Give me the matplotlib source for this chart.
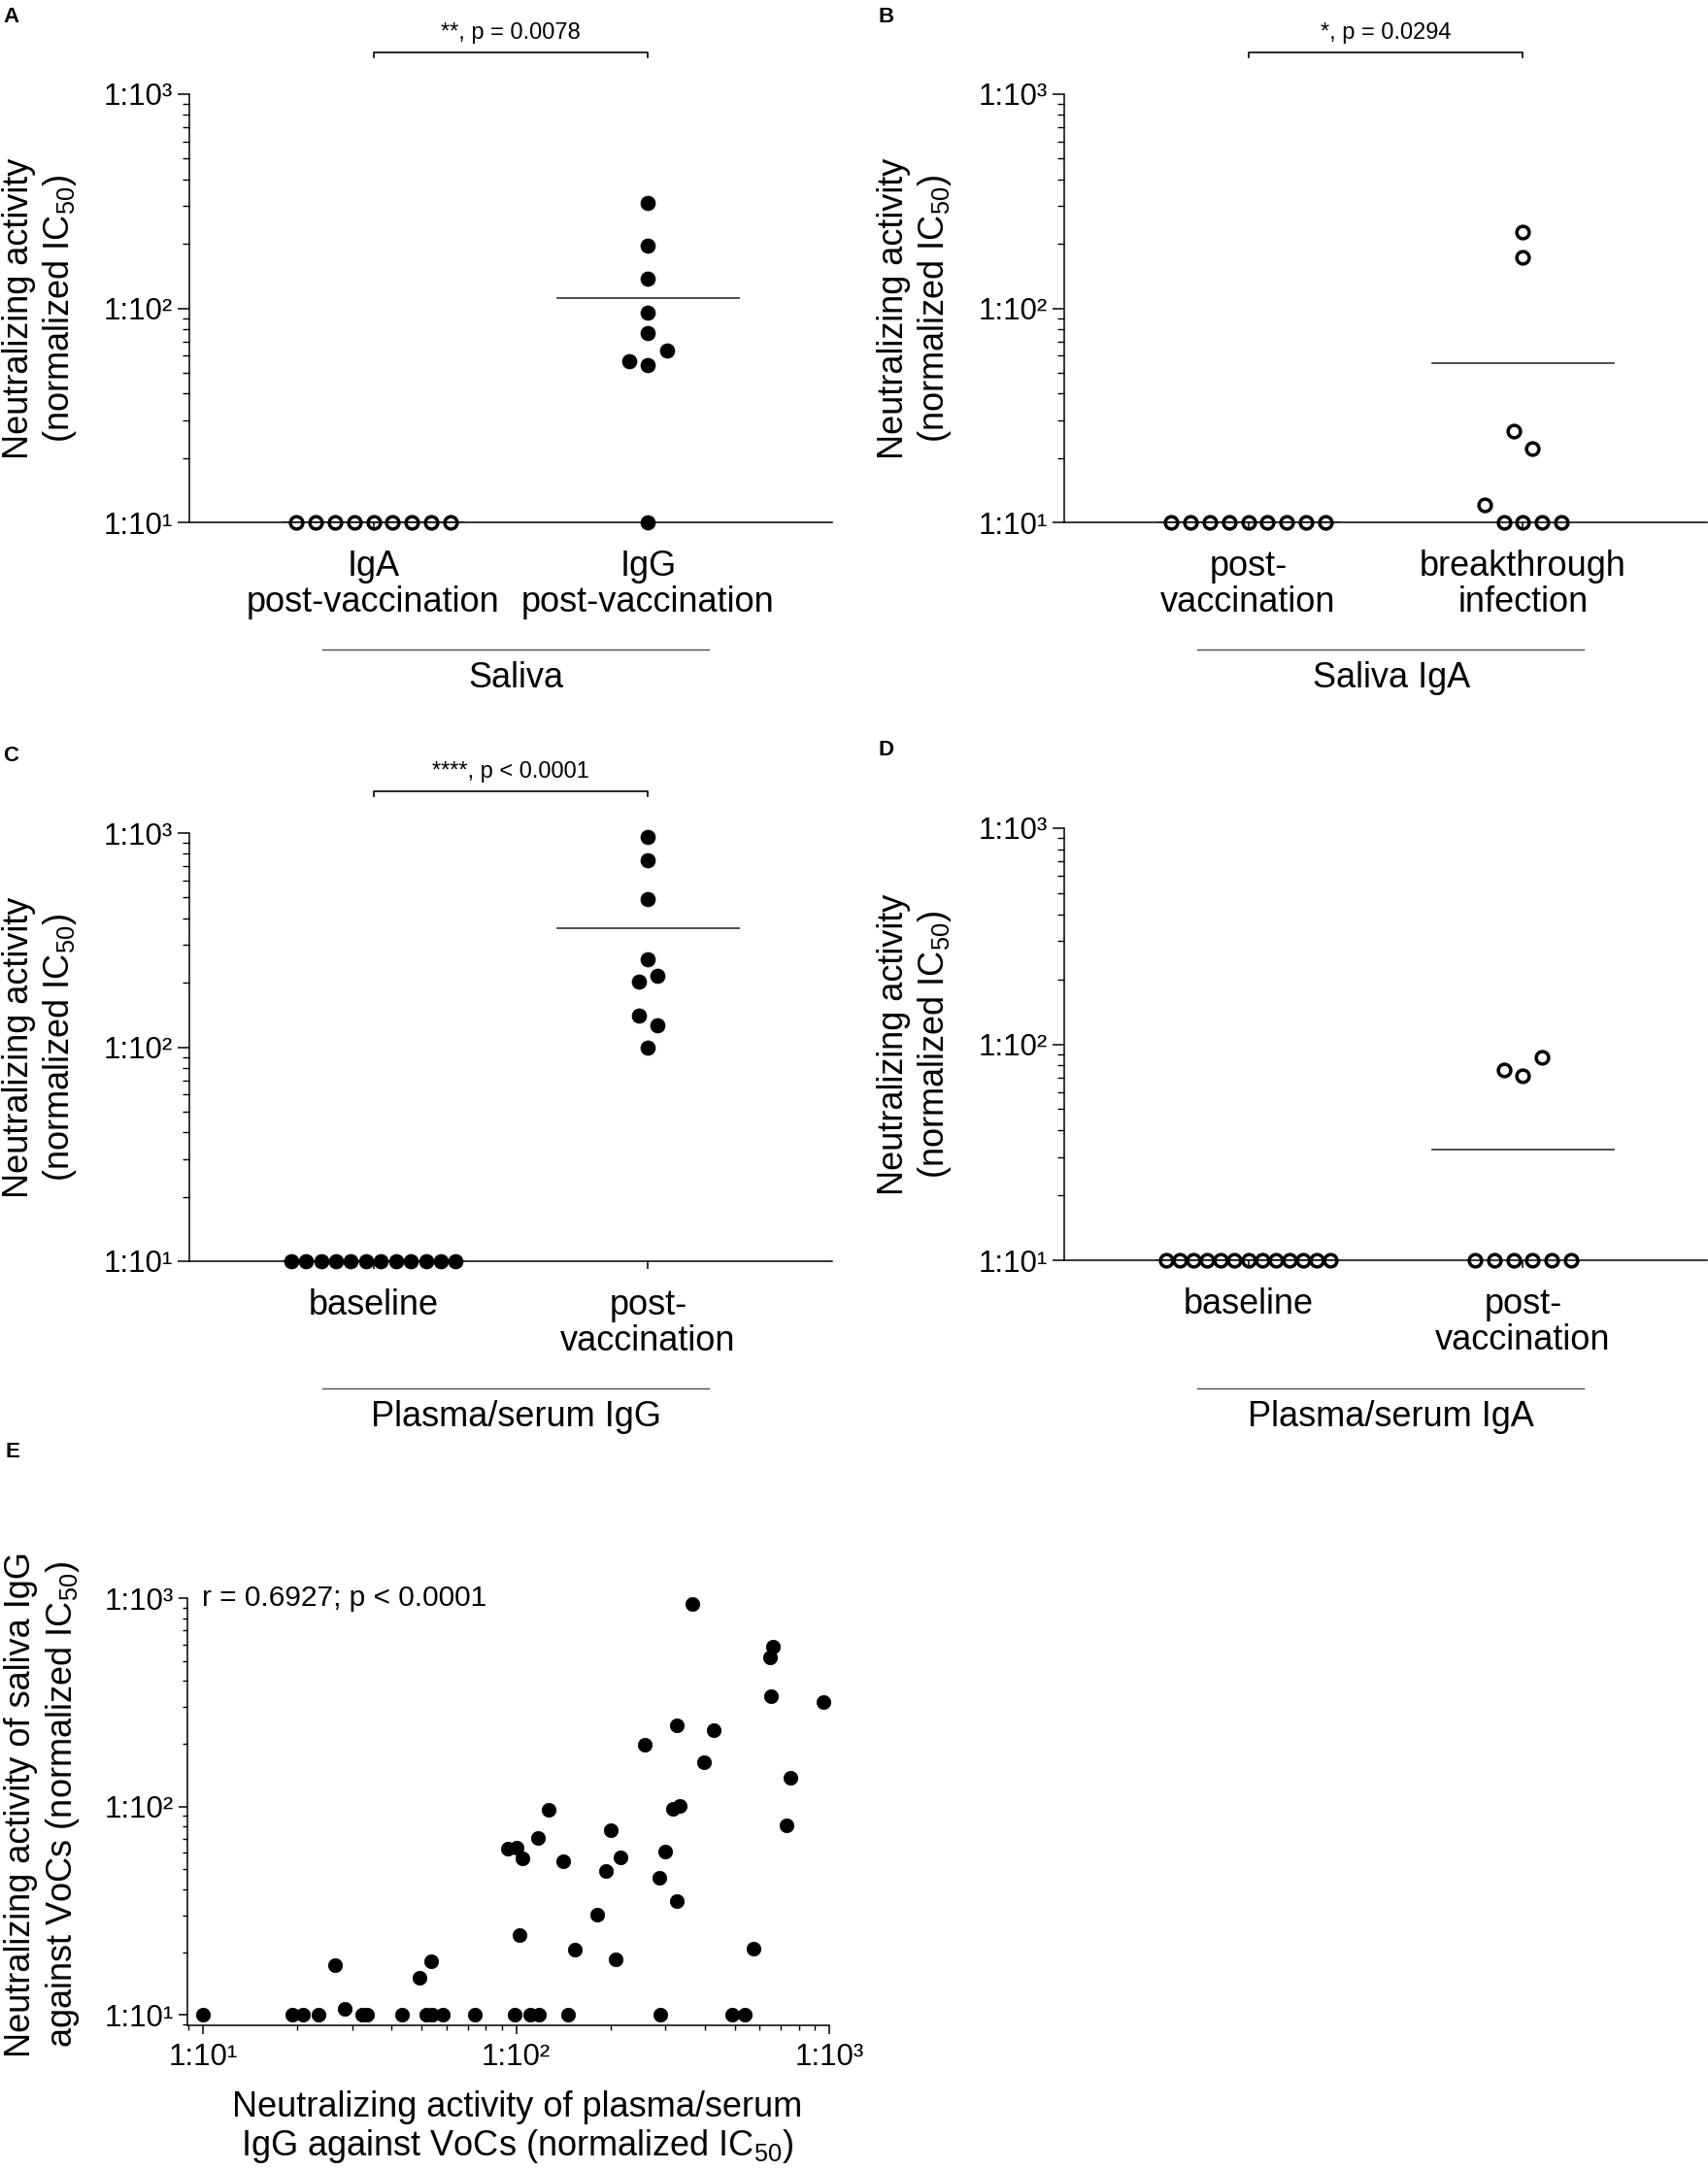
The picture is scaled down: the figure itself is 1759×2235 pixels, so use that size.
import numpy as np
import matplotlib
matplotlib.use("Agg")
import matplotlib.pyplot as plt
from matplotlib.ticker import LogLocator, NullFormatter, FixedLocator
import matplotlib.transforms as mtransforms

plt.rcParams['font.family'] = ['Liberation Sans', 'DejaVu Sans']
plt.rcParams['mathtext.fontset'] = 'custom'
plt.rcParams['mathtext.rm'] = 'Liberation Sans'
plt.rcParams['mathtext.default'] = 'regular'

# ---- data (normalized IC50 titres) ----
a_labels = ["IgA\npost-vaccination", "IgG\npost-vaccination"]
a_iga = [10, 10, 10, 10, 10, 10, 10, 10, 10]
a_igg = [10, 56.6, 54.2, 63.2, 76.7, 95.7, 137, 196, 312]

b_labels = ["post-\nvaccination", "breakthrough\ninfection"]
b_post = [10, 10, 10, 10, 10, 10, 10, 10, 10]
b_break = [12.1, 10, 10, 10, 10, 26.7, 22.2, 173, 226]

c_labels = ["baseline", "post-\nvaccination"]
c_base = [10, 10, 10, 10, 10, 10, 10, 10, 10, 10, 10, 10]
c_post = [99.5, 141, 127, 202, 215, 258, 492, 747, 961]

d_labels = ["baseline", "post-\nvaccination"]
d_base = [10, 10, 10, 10, 10, 10, 10, 10, 10, 10, 10, 10, 10]
d_post = [10, 10, 10, 10, 10, 10, 76, 71.6, 86.7]

# panel E: plasma/serum IgG (x) vs saliva IgG (y)
e_plasma = [10, 19.3, 20.8, 23.3, 26.3, 28.4, 32.3, 33.3, 43.1, 49.0, 51.5, 53.7,
            53.9, 58.1, 73.8, 94.0, 98.8, 100, 102.5, 104.7, 110.9, 117.5, 118.4,
            127, 141, 146, 154, 182, 193, 201, 208, 216, 257, 286, 288, 299, 317,
            326, 327, 333, 366, 399, 426, 488, 537, 573, 648, 662, 651, 731, 750, 959]
e_saliva = [10, 10, 10, 10, 17.3, 10.7, 10, 10, 10, 15.1, 10, 18.0,
            10, 10, 10, 63.1, 10, 63.5, 24.1, 56.2, 10, 70.6, 10,
            96.6, 54.8, 10, 20.5, 30.2, 49.3, 76.9, 18.4, 56.8, 198, 45.5, 10, 61.0, 98,
            245, 35.3, 101, 942, 164, 233, 10, 10, 20.8, 519, 586, 337, 80.9, 138, 316]

W, H = 1759, 2235
fig = plt.figure(figsize=(W / 100, H / 100), dpi=100)

TICK_FS = 22.5
LAB_FS = 26
dec_labels = ['1:10\u00b9', '1:10\u00b2', '1:10\u00b3']


def px_axes(left, top, right, bottom):
    return fig.add_axes([left / W, 1 - bottom / H, (right - left) / W, (bottom - top) / H])


def swarm(vals, gap=0.09, step=0.07, width=0.6):
    # spread points that sit on about the same level, centred on the column
    logs = np.log10(vals)
    order = np.argsort(logs, kind='stable')
    offs = np.zeros(len(vals))
    rows, cur = [], [order[0]]
    for k in order[1:]:
        if logs[k] - logs[cur[0]] < gap:
            cur.append(k)
        else:
            rows.append(cur)
            cur = [k]
    rows.append(cur)
    for r in rows:
        r = sorted(r)
        n = len(r)
        d = step if n < 2 else min(step, width / (n - 1))
        for j, k in enumerate(r):
            offs[k] = (j - (n - 1) / 2) * d
    return offs


def log_axis_style(ax, major_len, minor_len):
    ax.spines['top'].set_visible(False)
    ax.spines['right'].set_visible(False)
    for s in ['left', 'bottom']:
        ax.spines[s].set_linewidth(1.1)
    ax.tick_params(which='major', direction='out', length=major_len, width=1.1,
                   labelsize=TICK_FS, pad=4)
    ax.tick_params(which='minor', direction='out', length=minor_len, width=1.0)


def dot_panel(ax, groups, labels, filled, title, sig, letter):
    ax.set_yscale('log')
    for i, vals in enumerate(groups):
        vals = np.array(vals, dtype=float)
        x = i + swarm(vals)
        if filled[i]:
            ax.plot(x, vals, 'o', ms=10.8, mfc='black', mec='black', mew=0.5,
                    clip_on=False, zorder=3)
        else:
            ax.plot(x, vals, 'o', ms=9.2, mfc='none', mec='black', mew=2.5,
                    clip_on=False, zorder=3)
        m = vals.mean()
        ax.plot([i - 0.33, i + 0.33], [m, m], color='0.25', lw=1.3, zorder=2)
    ax.set_ylim(10, 1000)
    ax.set_xlim(-0.67, 1.67)
    log_axis_style(ax, 8.4, 4.8)
    ax.yaxis.set_major_locator(FixedLocator([10, 100, 1000]))
    ax.set_yticklabels(dec_labels)
    ax.yaxis.set_minor_locator(LogLocator(base=10, subs=np.arange(2, 10)))
    ax.yaxis.set_minor_formatter(NullFormatter())
    ax.set_xticks([0, 1])
    ax.set_xticklabels(labels, fontsize=LAB_FS, va='top')
    ax.tick_params(axis='x', length=6, pad=14)
    for t in ax.get_xticklabels():
        t.set_linespacing(1.1)

    ax.text(-0.232, 0.5, "Neutralizing activity\n(normalized IC$_{50}$)",
            transform=ax.transAxes, rotation=90, ha='center', va='center',
            fontsize=LAB_FS)

    tr = mtransforms.blended_transform_factory(ax.transData, ax.transAxes)
    ax.plot([-0.185, 1.22], [-0.297, -0.297], color='0.3', lw=1.0,
            transform=tr, clip_on=False)
    ax.text(0.52, -0.364, title, transform=tr, ha='center', va='center',
            fontsize=LAB_FS)

    if sig:
        ax.plot([0, 0, 1, 1], [1.086, 1.097, 1.097, 1.086], color='black',
                lw=1.2, transform=tr, clip_on=False)
        ax.text(0.5, 1.143, sig, transform=tr, ha='center', va='center',
                fontsize=17)

    ax.text(-0.29, 1.205, letter, transform=ax.transAxes, ha='left',
            va='top', fontsize=16, fontweight='bold')


ax_a = px_axes(195, 97, 857, 538)
dot_panel(ax_a, [a_iga, a_igg], a_labels, filled=[False, True], title="Saliva",
          sig="**, p = 0.0078", letter="A")

ax_b = px_axes(1096, 97, 1758, 538)
dot_panel(ax_b, [b_post, b_break], b_labels, filled=[False, False],
          title="Saliva IgA", sig="*, p = 0.0294", letter="B")

ax_c = px_axes(195, 858, 857, 1299)
dot_panel(ax_c, [c_base, c_post], c_labels, filled=[True, True],
          title="Plasma/serum IgG", sig="****, p < 0.0001", letter="C")

ax_d = px_axes(1096, 853, 1758, 1298)
dot_panel(ax_d, [d_base, d_post], d_labels, filled=[False, False],
          title="Plasma/serum IgA", sig=None, letter="D")

# ---- panel E: correlation ----
ax_e = px_axes(193, 1646, 854, 2086)
ax_e.plot(e_plasma, e_saliva, 'o', ms=10.4, mfc='black', mec='black', mew=0.5,
          clip_on=False, zorder=3)
ax_e.set_xscale('log')
ax_e.set_yscale('log')
lo = 10 ** 0.95
ax_e.set_xlim(lo, 1000)
ax_e.set_ylim(lo, 1000)
log_axis_style(ax_e, 6.2, 3.6)
for axis in [ax_e.xaxis, ax_e.yaxis]:
    axis.set_major_locator(FixedLocator([10, 100, 1000]))
    axis.set_minor_locator(LogLocator(base=10, subs=np.arange(2, 10)))
    axis.set_minor_formatter(NullFormatter())
ax_e.set_xticklabels(dec_labels)
ax_e.set_yticklabels(dec_labels)
ax_e.tick_params(axis='x', pad=7)
ax_e.text(0.022, 1.0, "r = 0.6927; p < 0.0001", transform=ax_e.transAxes,
          ha='left', va='center', fontsize=21.5)
ax_e.text(-0.225, 0.518,
          "Neutralizing activity of saliva IgG\nagainst VoCs (normalized IC$_{50}$)",
          transform=ax_e.transAxes, rotation=90, ha='center', va='center',
          fontsize=LAB_FS)
ax_e.text(0.514, -0.24,
          "Neutralizing activity of plasma/serum\nIgG against VoCs (normalized IC$_{50}$)",
          transform=ax_e.transAxes, ha='center', va='center', fontsize=LAB_FS,
          linespacing=1.1)
ax_e.text(-0.284, 1.365, "E", transform=ax_e.transAxes, ha='left', va='top',
          fontsize=16, fontweight='bold')

fig.savefig("out.png", dpi=100)
